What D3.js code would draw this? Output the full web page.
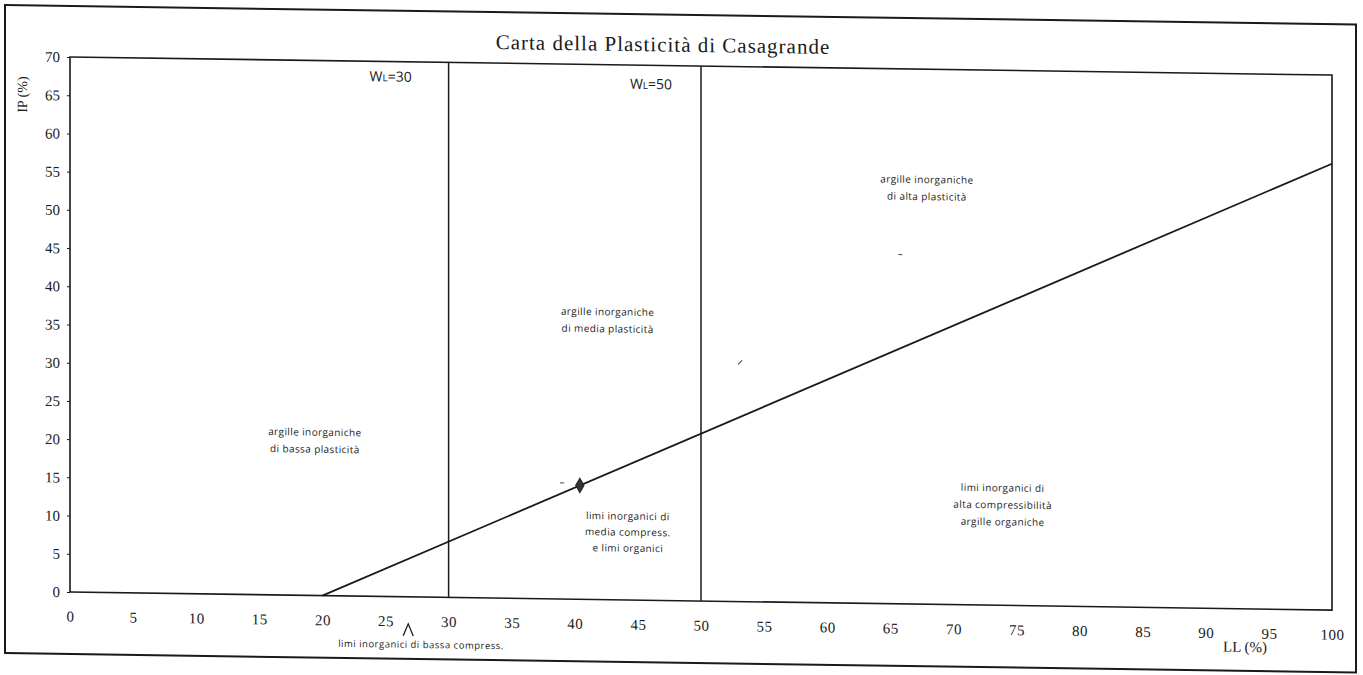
<!DOCTYPE html>
<html>
<head>
<meta charset="utf-8">
<script src="https://cdn.jsdelivr.net/npm/d3@7"></script>
<style>
  body { margin: 0; background: #fff; }
  svg { display: block; }
</style>
</head>
<body>
<svg id="chart" width="1363" height="675"></svg>
<script>
// Liquid limit (LL) and plasticity index (IP) tick labels
const llTicks = [0, 5, 10, 15, 20, 25, 30, 35, 40, 45, 50, 55, 60, 65, 70, 75, 80, 85, 90, 95, 100];
const ipTicks = [0, 5, 10, 15, 20, 25, 30, 35, 40, 45, 50, 55, 60, 65, 70];

// Vertical boundaries on the liquid limit
const boundaryLL = [30, 50];
const boundaryLabel = ["30", "50"];

// Casagrande A-line, IP = 0.73 (LL - 20)
const aLineLL = [20, 100];
const aLineIP = [0, 58.4];

// Tested sample
const sampleLL = [40.4];
const sampleIP = [14.9];

// Small marks printed on the chart
const markLL = [39.0, 53.1, 65.8];
const markIP = [15.2, 31.3, 45.7];

// Zone descriptions
const zoneText = [
  ["argille inorganiche", "di bassa plasticità"],
  ["argille inorganiche", "di media plasticità"],
  ["argille inorganiche", "di alta plasticità"],
  ["limi inorganici di", "media compress.", "e limi organici"],
  ["limi inorganici di", "alta compressibilità", "argille organiche"]
];
const lowZoneText = "limi inorganici di bassa compress.";

(function draw() {
  const svg = d3.select("#chart");

  // The printed sheet sits slightly slanted
  const sheet = svg.append("g")
    .attr("transform", "translate(0,-1.0) skewY(0.82)");

  const plotL = 70, plotR = 1332, plotT = 57, plotB = 592;
  const x = d3.scaleLinear().domain([0, 100]).range([plotL, plotR]);
  const y = d3.scaleLinear().domain([0, 70]).range([plotB, plotT]);

  const ink = "#1a1a1a";
  const serif = "'Liberation Serif', 'Times New Roman', serif";
  const sans = "'Open Sans', 'DejaVu Sans', sans-serif";

  // Outer frame
  sheet.append("rect")
    .attr("x", 5).attr("y", 6).attr("width", 1351).attr("height", 648)
    .attr("fill", "none").attr("stroke", ink).attr("stroke-width", 2);

  // Title
  sheet.append("text")
    .attr("x", 663).attr("y", 43)
    .attr("text-anchor", "middle")
    .attr("font-family", serif).attr("font-size", 21)
    .attr("letter-spacing", 1)
    .attr("fill", ink)
    .text("Carta della Plasticità di Casagrande");

  // Plot frame
  sheet.append("rect")
    .attr("x", plotL).attr("y", plotT)
    .attr("width", plotR - plotL).attr("height", plotB - plotT)
    .attr("fill", "none").attr("stroke", ink).attr("stroke-width", 1.6);

  // Y axis
  const yAxis = d3.axisLeft(y).tickValues(ipTicks).tickSize(3).tickPadding(7).tickFormat(d3.format("d"));
  const gy = sheet.append("g").attr("transform", `translate(${plotL},0)`).call(yAxis);
  gy.select(".domain").remove();
  gy.selectAll(".tick line").attr("stroke", ink).attr("stroke-width", 1);
  gy.selectAll(".tick text")
    .attr("font-family", serif).attr("font-size", 15).attr("fill", ink);

  // X axis (labels only)
  const xAxis = d3.axisBottom(x).tickValues(llTicks).tickSize(0).tickPadding(19).tickFormat(d3.format("d"));
  const gx = sheet.append("g").attr("transform", `translate(0,${plotB})`).call(xAxis);
  gx.select(".domain").remove();
  gx.selectAll(".tick text")
    .attr("font-family", serif).attr("font-size", 15).attr("letter-spacing", 0.5).attr("fill", ink);

  // Axis titles
  sheet.append("text")
    .attr("transform", `translate(27,${y(65)}) rotate(-90)`)
    .attr("text-anchor", "middle")
    .attr("font-family", serif).attr("font-size", 14).attr("fill", ink)
    .text("IP (%)");
  sheet.append("text")
    .attr("x", 1245).attr("y", 635)
    .attr("text-anchor", "middle")
    .attr("font-family", serif).attr("font-size", 15).attr("fill", ink)
    .text("LL (%)");

  // Liquid limit boundaries
  sheet.selectAll("line.bound").data(boundaryLL).enter().append("line")
    .attr("class", "bound")
    .attr("x1", d => x(d)).attr("x2", d => x(d))
    .attr("y1", y(70)).attr("y2", y(0))
    .attr("stroke", ink).attr("stroke-width", 1.5);

  const wlOffset = [-58, -50];
  const wl = sheet.selectAll("text.wl").data(boundaryLabel).enter().append("text")
    .attr("class", "wl")
    .attr("x", (d, i) => x(boundaryLL[i]) + wlOffset[i])
    .attr("y", (d, i) => y(i === 0 ? 67.4 : 66.9))
    .attr("text-anchor", "middle")
    .attr("font-family", sans).attr("font-size", 14).attr("fill", ink);
  wl.append("tspan").text("W");
  wl.append("tspan").attr("font-size", 10).text("L");
  wl.append("tspan").text(d => "=" + d);

  // A-line
  const aLine = d3.line().x(d => x(d[0])).y(d => y(d[1]));
  sheet.append("path")
    .datum(aLineLL.map((v, i) => [v, aLineIP[i]]))
    .attr("d", aLine)
    .attr("fill", "none").attr("stroke", ink).attr("stroke-width", 1.8);

  // Sample marker (diamond)
  sheet.selectAll("path.sample").data(sampleLL).enter().append("path")
    .attr("class", "sample")
    .attr("d", d3.symbol().type(d3.symbolDiamond).size(60))
    .attr("transform", (d, i) => `translate(${x(d)},${y(sampleIP[i])})`)
    .attr("fill", "#333").attr("stroke", "#222");

  // Small marks
  sheet.selectAll("line.mark").data(markLL).enter().append("line")
    .attr("class", "mark")
    .attr("x1", d => x(d) - 2).attr("x2", d => x(d) + 2)
    .attr("y1", (d, i) => y(markIP[i]) + (i === 1 ? 2 : 0))
    .attr("y2", (d, i) => y(markIP[i]) - (i === 1 ? 2 : 0))
    .attr("stroke", "#444").attr("stroke-width", 1);

  // Zone labels
  const zoneAnchor = [[19.4, 21.3, 17], [42.6, 37.6, 17], [67.9, 55.5, 17], [44.2, 10.9, 16], [73.9, 15.3, 17]];
  zoneText.forEach((lines, i) => {
    const [ll, ip, step] = zoneAnchor[i];
    const t = sheet.append("text")
      .attr("text-anchor", "middle")
      .attr("font-family", sans).attr("font-size", 10)
      .attr("letter-spacing", 0.4).attr("fill", ink);
    lines.forEach((s, k) => {
      t.append("tspan").attr("x", x(ll)).attr("y", y(ip) + 3 + k * step).text(s);
    });
  });

  // Low-compressibility silt note with arrow pointing into the chart
  const arrowX = x(26.8);
  sheet.append("path")
    .attr("d", `M${arrowX - 5},631 L${arrowX},619 L${arrowX + 5},631`)
    .attr("fill", "none").attr("stroke", ink).attr("stroke-width", 1.3);
  sheet.append("text")
    .attr("x", 421).attr("y", 643)
    .attr("text-anchor", "middle")
    .attr("font-family", sans).attr("font-size", 9.5)
    .attr("letter-spacing", 0.5).attr("fill", ink)
    .text(lowZoneText);
})();
</script>
</body>
</html>
